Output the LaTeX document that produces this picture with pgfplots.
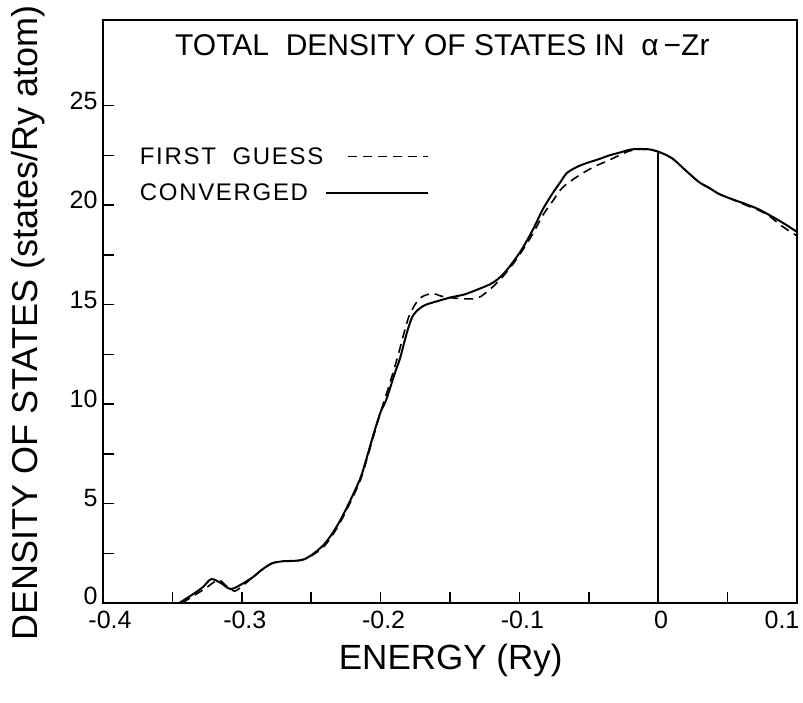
\documentclass[border=0pt]{standalone}
\usepackage{fontspec}
\setmainfont{Liberation Sans}
\usepackage{pgfplots}
\pgfplotsset{compat=1.18}
\pgfplotsset{
  dashimg/.style={legend image code/.code={\draw[##1] (4pt,0pt) -- (84pt,0pt);}},
  solidimg/.style={legend image code/.code={\draw[##1] (-18pt,0pt) -- (84pt,0pt);}},
}
\begin{document}
\begin{tikzpicture}
\begin{axis}[
  name=ax,
  at={(0pt,0pt)}, anchor=south west,
  scale only axis,
  width=694pt, height=583pt,
  xmin=-0.4, xmax=0.1,
  ymin=0, ymax=29.3,
  axis line style={line width=1.8pt},
  xtick={-0.4,-0.3,-0.2,-0.1,0,0.1},
  xticklabels={\makebox[0pt][c]{\hspace*{8pt}-0.4},-0.3,-0.2,-0.1,0,\makebox[0pt][c]{\hspace*{-36pt}0.1}},
  minor x tick num=1,
  ytick={0,5,10,15,20,25},
  yticklabels={\raisebox{5pt}{0},5,10,15,20,25},
  minor y tick num=1,
  xtick pos=bottom, ytick pos=left,
  tick align=inside,
  major tick length=11pt, minor tick length=11pt,
  every tick/.style={line width=1.5pt, black},
  tick label style={font=\fontsize{25}{27}\selectfont},
  /pgf/number format/assume math mode=true,
  xticklabel style={yshift=-5pt, xshift=3pt},
  yticklabel style={xshift=-2pt, yshift=5pt},
  legend style={at={(axis description cs:0.050,0.785)}, anchor=north west,
    draw=none, fill=none, legend plot pos=right,
    font=\fontsize{24}{26}\selectfont\addfontfeature{LetterSpace=7}, row sep=14pt,
    legend cell align=left, inner sep=0pt},
  clip=false,
]
% FIRST GUESS (dashed)
\addplot[black, line width=1.6pt, dash pattern=on 9pt off 6pt, smooth, tension=0.5, dashimg] coordinates {
(-0.343,0) (-0.335,0.35) (-0.327,0.7) (-0.317,1.15) (-0.311,0.85) (-0.305,0.6)
(-0.298,0.95) (-0.292,1.3) (-0.285,1.7) (-0.278,2.0) (-0.270,2.1) (-0.262,2.1)
(-0.255,2.2) (-0.248,2.45) (-0.240,2.9) (-0.232,3.7) (-0.225,4.6) (-0.215,6.1)
(-0.210,7.2) (-0.205,8.4) (-0.200,9.6) (-0.194,10.9) (-0.188,12.3) (-0.183,13.6)
(-0.179,14.5) (-0.172,15.3) (-0.163,15.55) (-0.155,15.4) (-0.143,15.3) (-0.131,15.3)
(-0.125,15.55) (-0.119,15.9) (-0.112,16.4) (-0.105,17.0) (-0.098,17.7) (-0.090,18.6)
(-0.083,19.5) (-0.076,20.2) (-0.070,20.8) (-0.066,21.05) (-0.059,21.4) (-0.052,21.7)
(-0.044,22.0) (-0.037,22.2) (-0.028,22.5) (-0.019,22.75) (-0.0065,22.8) (0.003,22.6)
(0.010,22.35) (0.015,22.05) (0.022,21.6) (0.0295,21.15) (0.037,20.85) (0.044,20.55)
(0.053,20.3) (0.063,20.0) (0.072,19.75) (0.080,19.45) (0.089,18.95) (0.100,18.45)
};
\addlegendentry{FIRST\ \ GUESS}
% CONVERGED (solid)
\addplot[black, line width=2pt, smooth, tension=0.5, solidimg] coordinates {
(-0.345,0) (-0.335,0.45) (-0.328,0.8) (-0.322,1.2) (-0.315,1.0) (-0.308,0.7)
(-0.300,0.95) (-0.292,1.3) (-0.285,1.7) (-0.278,2.0) (-0.270,2.1) (-0.262,2.12)
(-0.255,2.2) (-0.248,2.5) (-0.240,3.0) (-0.232,3.8) (-0.225,4.7) (-0.215,6.2)
(-0.210,7.3) (-0.205,8.5) (-0.200,9.6) (-0.196,10.2) (-0.190,11.5) (-0.186,12.3)
(-0.181,13.6) (-0.177,14.4) (-0.172,14.8) (-0.167,15.0) (-0.160,15.15) (-0.150,15.35)
(-0.140,15.5) (-0.134,15.65) (-0.125,15.9) (-0.119,16.1) (-0.112,16.5) (-0.105,17.1)
(-0.098,17.8) (-0.090,18.8) (-0.083,19.8) (-0.076,20.6) (-0.070,21.2) (-0.066,21.6)
(-0.059,21.9) (-0.052,22.1) (-0.043,22.3) (-0.035,22.5) (-0.027,22.65) (-0.019,22.8)
(-0.0065,22.8) (0.003,22.6) (0.010,22.35) (0.015,22.05) (0.022,21.6) (0.0295,21.15)
(0.037,20.85) (0.044,20.55) (0.053,20.3) (0.063,20.05) (0.072,19.8) (0.080,19.5)
(0.090,19.1) (0.100,18.65)
};
\addlegendentry{CONVERGED}
% Fermi level
\addplot[black, line width=1.5pt, forget plot] coordinates {(0,0) (0,22.6)};
\node[font=\fontsize{30}{32}\selectfont, anchor=center] at (axis description cs:0.489,0.957)
  {TOTAL\ \ DENSITY\ OF\ STATES\ IN\ \ α\,−Zr};
\node[font=\fontsize{35}{37}\selectfont, anchor=center] at (axis description cs:0.501,-0.098)
  {ENERGY (Ry)};
\node[font=\fontsize{36}{38}\selectfont, anchor=center, rotate=90] at (axis description cs:-0.108,0.48)
  {DENSITY OF STATES (states/Ry atom)};
\end{axis}
\pgfresetboundingbox
\path[use as bounding box] (-103pt,-99pt) rectangle (700pt,603pt);
\end{tikzpicture}
\end{document}
